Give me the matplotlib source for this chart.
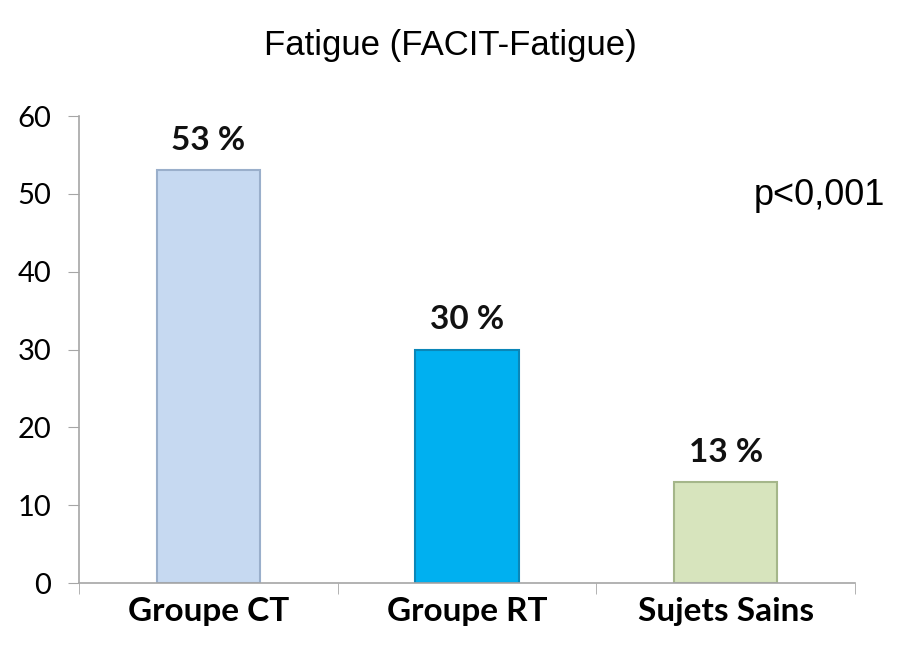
import numpy as np
import matplotlib
matplotlib.use("Agg")
import matplotlib.pyplot as plt

categories = ["Groupe CT", "Groupe RT", "Sujets Sains"]
values = [53, 30, 13]
value_labels = ["53 %", "30 %", "13 %"]
yticks = [0, 10, 20, 30, 40, 50, 60]
title = "Fatigue (FACIT-Fatigue)"
pval = "p<0,001"

FILL = ["#C6D9F1", "#00B0F0", "#D7E4BD"]
EDGE = ["#9AAFCB", "#0A86B8", "#A5B68A"]
AXC = "#A6A6A6"

fig = plt.figure(figsize=(8.97, 6.55), dpi=100)
ax = fig.add_axes([0.0881, 0.1099, 0.8651, 0.7130])

x = np.arange(len(categories))
ax.bar(x, values, 0.40, color=FILL, edgecolor=EDGE, linewidth=1.5, zorder=2)
for xi, v, lab in zip(x, values, value_labels):
    ax.annotate(lab, (xi, v), xytext=(0, 11), textcoords="offset points",
                ha="center", va="bottom", fontsize=24, fontweight="bold",
                family="Lato", color="#111111")

ax.set_xlim(-0.5, 2.5)
ax.set_ylim(0, 60)
ax.set_yticks(yticks)
ax.set_yticklabels([str(t) for t in yticks], family="Lato", fontsize=21)
ax.set_xticks(x)
ax.set_xticklabels(categories, family="Lato", fontsize=24, fontweight="bold")
ax.set_xticks(np.arange(-0.5, 3.0, 1.0), minor=True)
ax.tick_params(axis="x", which="major", length=0, pad=10)
ax.tick_params(axis="x", which="minor", length=8, color=AXC, direction="out")
ax.tick_params(axis="y", length=8, color=AXC, pad=12)

for s in ["top", "right"]:
    ax.spines[s].set_visible(False)
for s in ["left", "bottom"]:
    ax.spines[s].set_color(AXC)
    ax.spines[s].set_linewidth(1.2)

fig.text(0.502, 0.931, title, ha="center", va="center", fontsize=25,
         family="Liberation Sans")
fig.text(0.913, 0.702, pval, ha="center", va="center", fontsize=26,
         family="Liberation Sans")

fig.savefig("out.png", dpi=100)
